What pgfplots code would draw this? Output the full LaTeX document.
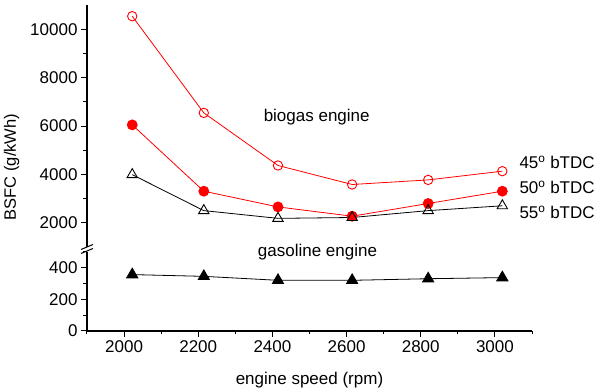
\documentclass[border=0pt]{standalone}
\usepackage{fontspec}
\setmainfont{Liberation Sans}
\usepackage{pgfplots}
\pgfplotsset{compat=1.18}
\begin{document}
\begin{tikzpicture}
\useasboundingbox (0pt,0pt) rectangle (603pt,388pt);
\pgfplotsset{
 common/.style={
  scale only axis, width=445pt, xmin=1900, xmax=3100,
  axis line style={line width=1.2pt, -},
  tick style={line width=1pt, black},
  tick align=outside,
  major tick length=6pt, minor tick length=3.5pt,
  scaled x ticks=false, scaled y ticks=false,
  /pgf/number format/assume math mode=true,
  /pgf/number format/1000 sep={},
  tick label style={font=\fontsize{17}{20}\selectfont},
  clip=false,
 }}
\begin{axis}[common, at={(87pt,57pt)}, anchor=south west, height=79.2pt,
  ymin=0, ymax=500,
  axis x line*=bottom, axis y line*=left,
  xtick={2000,2200,...,3000}, minor xtick={1900,2100,...,3100},
  ytick={0,200,400}, minor ytick={100,300,500}]
\addplot[black, line width=0.8pt, mark=triangle*, mark size=6.5pt, mark options={solid,fill=black}] coordinates {
(2022,356) (2215,345) (2415,320) (2615,320) (2820,330) (3020,337)};
\end{axis}
\begin{axis}[common, at={(87pt,141.15pt)}, anchor=south west, height=241.5pt,
  ymin=1000, ymax=11000,
  axis x line=none, axis y line*=left,
  ytick={2000,4000,...,10000}, minor ytick={3000,5000,7000,9000}]
\addplot[red, line width=0.8pt, mark=o, mark size=4.7pt, mark options={solid,fill=white,line width=0.9pt}] coordinates {
(2022,10550) (2215,6547) (2415,4369) (2615,3582) (2820,3772) (3020,4133)};
\addplot[red, line width=0.8pt, mark=*, mark size=5pt, mark options={solid,fill=red}] coordinates {
(2022,6050) (2215,3304) (2415,2654) (2615,2269) (2820,2795) (3020,3304)};
\addplot[black, line width=0.8pt, mark=triangle, mark size=6pt, mark options={solid,fill=white,line width=0.9pt}] coordinates {
(2022,3990) (2215,2500) (2415,2180) (2615,2215) (2820,2500) (3020,2700)};
\end{axis}
% axis break marks
\draw[line width=1pt] (81pt,134.5pt) -- (93pt,139.5pt);
\draw[line width=1pt] (81pt,138.5pt) -- (93pt,143.5pt);
% texts
\node[anchor=base, font=\fontsize{17}{20}\selectfont, inner sep=0] at (316.7pt,266pt) {biogas engine};
\node[anchor=base, font=\fontsize{17}{20}\selectfont, inner sep=0] at (317.5pt,131.3pt) {gasoline engine};
\node[anchor=base west, font=\fontsize{17}{20}\selectfont, inner sep=0] at (519.3pt,219pt) {45\textsuperscript{o} bTDC};
\node[anchor=base west, font=\fontsize{17}{20}\selectfont, inner sep=0] at (519.3pt,194pt) {50\textsuperscript{o} bTDC};
\node[anchor=base west, font=\fontsize{17}{20}\selectfont, inner sep=0] at (519.3pt,169pt) {55\textsuperscript{o} bTDC};
\node[anchor=base, font=\fontsize{17}{20}\selectfont, inner sep=0] at (309.5pt,3.5pt) {engine speed (rpm)};
\node[rotate=90, font=\fontsize{16.5}{20}\selectfont, inner sep=0] at (11.5pt,221pt) {BSFC (g/kWh)};
\end{tikzpicture}
\end{document}
